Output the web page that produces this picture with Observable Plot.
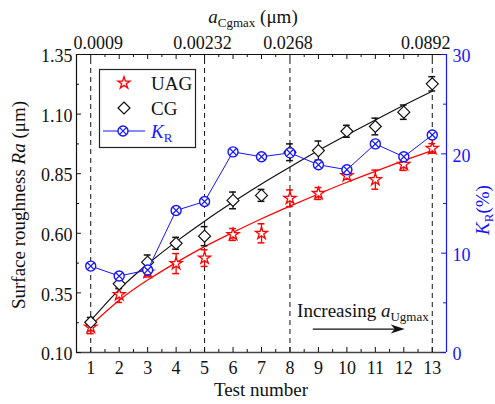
<!DOCTYPE html>
<html><head><meta charset="utf-8">
<script src="https://cdn.jsdelivr.net/npm/d3@7"></script>
<script src="https://cdn.jsdelivr.net/npm/@observablehq/plot@0.6"></script>
<style>
body{margin:0;background:#fff;}
#wrap{width:495px;height:404px;}
</style></head><body><div id="wrap"></div>
<script>
// ---- data ----
const tests  = [1,2,3,4,5,6,7,8,9,10,11,12,13];
const uag    = [0.206,0.343,0.437,0.473,0.496,0.595,0.600,0.747,0.767,0.842,0.825,0.889,0.956];
const uagErr = [0.027,0.033,0.020,0.042,0.035,0.025,0.040,0.035,0.025,0.015,0.040,0.025,0.020];
const uagFit = [0.213,0.319,0.404,0.477,0.544,0.604,0.661,0.714,0.765,0.814,0.860,0.905,0.947];
const cg     = [0.227,0.388,0.479,0.558,0.588,0.738,0.759,0.940,0.947,1.028,1.048,1.108,1.227];
const cgErr  = [0.020,0.020,0.030,0.025,0.040,0.035,0.025,0.035,0.040,0.025,0.035,0.030,0.030];
const cgFit  = [0.234,0.364,0.471,0.565,0.651,0.731,0.807,0.878,0.947,1.012,1.075,1.137,1.196];
const kr     = [8.7,7.7,8.3,14.3,15.2,20.2,19.7,20.1,18.9,18.4,21.0,19.7,21.9];

const topTickTests  = [1,5,8,13];
const topTickLabels = ["0.0009","0.00232","0.0268","0.0892"];
const raTicks      = [0.10,0.35,0.60,0.85,1.10,1.35];
const raMinorTicks = [0.225,0.475,0.725,0.975,1.225];
const krTicks      = [0,10,20,30];
const krMinorTicks = [5,15,25];
const xMinorTicks  = [1.5,2.5,3.5,4.5,5.5,6.5,7.5,8.5,9.5,10.5,11.5,12.5];
const arrowFromTest = 8.82, arrowToTest = 12.05, arrowRa = 0.196;

// ---- scales ----
const xMin = 0.5, xMax = 13.5, yMin = 0.10, yMax = 1.35, kMax = 30;
const k2y = k => yMin + k / kMax * (yMax - yMin);
const y2k = y => (y - yMin) / (yMax - yMin) * kMax;

const RED = "#ff0000", BLUE = "#1414ff", BLACK = "#111";
const FONT = "Liberation Serif";

const rows = tests.map((t, i) => ({
  t, uag: uag[i], ue: uagErr[i], uf: uagFit[i],
  cg: cg[i], ce: cgErr[i], cf: cgFit[i], k: kr[i]
}));
const topRows = topTickTests.map((t, i) => ({t, label: topTickLabels[i]}));

const tx = 0.175, tx2 = 0.105, ty = 0.021, ty2 = 0.0126, cap = 0.12;

const chart = Plot.plot({
  width: 495, height: 404,
  marginLeft: 76, marginRight: 49, marginTop: 54, marginBottom: 52,
  x: {domain: [xMin, xMax]},
  y: {domain: [yMin, yMax]},
  style: {fontFamily: FONT, fontSize: "18px", color: BLACK, background: "white"},
  marks: [
    // dashed guide lines
    Plot.ruleX(topTickTests, {x: d => d, y1: yMin, y2: yMax, stroke: BLACK, strokeDasharray: "5,4", strokeWidth: 1}),
    // fit curves
    Plot.line(rows, {x: "t", y: "uf", stroke: RED, strokeWidth: 1.2, curve: "natural"}),
    Plot.line(rows, {x: "t", y: "cf", stroke: BLACK, strokeWidth: 1.2, curve: "natural"}),
    // error bars UAG
    Plot.ruleX(rows, {x: "t", y1: d => d.uag - d.ue, y2: d => d.uag + d.ue, stroke: RED, strokeWidth: 1.3}),
    Plot.ruleY(rows, {y: d => d.uag - d.ue, x1: d => d.t - cap, x2: d => d.t + cap, stroke: RED, strokeWidth: 1.5}),
    Plot.ruleY(rows, {y: d => d.uag + d.ue, x1: d => d.t - cap, x2: d => d.t + cap, stroke: RED, strokeWidth: 1.5}),
    // error bars CG
    Plot.ruleX(rows, {x: "t", y1: d => d.cg - d.ce, y2: d => d.cg + d.ce, stroke: BLACK, strokeWidth: 1.3}),
    Plot.ruleY(rows, {y: d => d.cg - d.ce, x1: d => d.t - cap, x2: d => d.t + cap, stroke: BLACK, strokeWidth: 1.5}),
    Plot.ruleY(rows, {y: d => d.cg + d.ce, x1: d => d.t - cap, x2: d => d.t + cap, stroke: BLACK, strokeWidth: 1.5}),
    // points
    Plot.dot(rows, {x: "t", y: "uag", symbol: "star", r: 3.8, stroke: RED, fill: "white", strokeWidth: 1.3}),
    Plot.dot(rows, {x: "t", y: "cg", symbol: "diamond2", r: 5.4, stroke: BLACK, fill: "white", strokeWidth: 1.2}),
    // K_R series
    Plot.line(rows, {x: "t", y: d => k2y(d.k), stroke: BLUE, strokeWidth: 1}),
    Plot.dot(rows, {x: "t", y: d => k2y(d.k), r: 5, stroke: BLUE, fill: "white", strokeWidth: 1.4}),
    Plot.dot(rows, {x: "t", y: d => k2y(d.k), symbol: "times", r: 3.1, stroke: BLUE, strokeWidth: 1.2}),
    // frame
    Plot.ruleX([xMin], {stroke: BLACK, strokeWidth: 1.2}),
    Plot.ruleY([yMin], {stroke: "#444", strokeWidth: 1.6}),
    Plot.ruleY([yMax], {stroke: BLACK, strokeWidth: 1.2}),
    Plot.ruleX([xMax], {stroke: BLUE, strokeWidth: 1.2}),
    // inward ticks
    Plot.ruleY(raTicks, {y: d => d, x1: xMin, x2: xMin + tx, stroke: BLACK}),
    Plot.ruleY(raMinorTicks, {y: d => d, x1: xMin, x2: xMin + tx2, stroke: BLACK}),
    Plot.ruleY(krTicks, {y: d => k2y(d), x1: xMax - tx, x2: xMax, stroke: BLUE}),
    Plot.ruleY(krMinorTicks, {y: d => k2y(d), x1: xMax - tx2, x2: xMax, stroke: BLUE}),
    Plot.ruleX(tests, {x: d => d, y1: yMin, y2: yMin + ty, stroke: BLACK}),
    Plot.ruleX(xMinorTicks, {x: d => d, y1: yMin, y2: yMin + ty2, stroke: BLACK}),
    Plot.ruleX(tests, {x: d => d, y1: yMax - ty, y2: yMax, stroke: BLACK}),
    Plot.ruleX(xMinorTicks, {x: d => d, y1: yMax - ty2, y2: yMax, stroke: BLACK}),
    // axis labels
    Plot.axisY({anchor: "left", ticks: raTicks, tickSize: 0, tickPadding: 4, tickFormat: d => d.toFixed(2), label: null, fill: BLACK, dy: 2}),
    Plot.axisY({anchor: "right", ticks: krTicks.map(k2y), tickSize: 0, tickPadding: 6, tickFormat: d => String(Math.round(y2k(d))), label: null, fill: BLUE, dy: 2}),
    Plot.axisX({anchor: "bottom", ticks: tests, tickSize: 0, tickPadding: 9, tickFormat: d => String(d), label: null, fill: BLACK}),
    // top axis labels (outer ones pulled inside like the reference)
    Plot.text(topRows.slice(0, 1), {x: () => xMin, y: () => yMax, text: "label", textAnchor: "start", lineAnchor: "bottom", dx: -3, dy: -6, fill: BLACK}),
    Plot.text(topRows.slice(1, 3), {x: "t", y: () => yMax, text: "label", lineAnchor: "bottom", dx: -2, dy: -6, fill: BLACK}),
    Plot.text(topRows.slice(3), {x: () => xMax, y: () => yMax, text: "label", textAnchor: "end", lineAnchor: "bottom", dx: 4, dy: -6, fill: BLACK})
  ]
});

document.getElementById("wrap").appendChild(chart);

// ---- titles, annotation and legend (rich text) ----
const svg = d3.select(chart);
const sx = chart.scale("x"), sy = chart.scale("y");
function richText(g, parts) {
  parts.forEach(p => {
    const ts = g.append("tspan").text(p.t);
    if (p.i) ts.attr("font-style", "italic");
    if (p.s) ts.attr("font-size", p.s);
    if (p.dy) ts.attr("dy", p.dy);
  });
  return g;
}
const T = svg.append("g").attr("font-family", FONT).attr("fill", BLACK);

// top title
richText(T.append("text").attr("x", 253).attr("y", 23).attr("text-anchor", "middle").attr("font-size", 19),
  [{t: "a", i: true}, {t: "Cgmax", s: 13, dy: 4}, {t: " (μm)", dy: -4}]);
// bottom title
T.append("text").attr("x", 261).attr("y", 396).attr("text-anchor", "middle").attr("font-size", 19).text("Test number");
// left title
richText(T.append("text").attr("transform", "translate(25,205) rotate(-90)").attr("text-anchor", "middle").attr("font-size", 19),
  [{t: "Surface roughness "}, {t: "Ra", i: true}, {t: " (μm)"}]);
// right title
richText(T.append("text").attr("transform", "translate(489,210) rotate(-90)").attr("text-anchor", "middle").attr("font-size", 19).attr("fill", BLUE),
  [{t: "K", i: true}, {t: "R", s: 13, dy: 4}, {t: "(%)", dy: -4}]);

// annotation
richText(T.append("text").attr("x", sx.apply(13) - 3).attr("y", 317).attr("text-anchor", "end").attr("font-size", 19),
  [{t: "Increasing "}, {t: "a", i: true}, {t: "Ugmax", s: 13, dy: 4}]);
const ax1 = sx.apply(arrowFromTest), ax2 = sx.apply(arrowToTest), ay = sy.apply(arrowRa);
T.append("line").attr("x1", ax1).attr("x2", ax2 - 6).attr("y1", ay).attr("y2", ay).attr("stroke", BLACK).attr("stroke-width", 1.3);
T.append("path").attr("d", `M${ax2},${ay}L${ax2 - 14},${ay - 4.5}L${ax2 - 10},${ay}L${ax2 - 14},${ay + 4.5}Z`).attr("fill", BLACK);

// legend
const L = svg.append("g").attr("font-family", FONT).attr("text-anchor", "start");
L.append("rect").attr("x", 99.5).attr("y", 69.5).attr("width", 96).attr("height", 78).attr("fill", "white").attr("stroke", "#222").attr("stroke-width", 1.2);
L.append("path").attr("d", d3.symbol(d3.symbolStar, Math.PI * 3.8 * 3.8)()).attr("transform", "translate(124,83)").attr("fill", "white").attr("stroke", RED).attr("stroke-width", 1.3);
L.append("text").attr("x", 151).attr("y", 90).attr("text-anchor", "start").attr("font-size", 19).attr("fill", BLACK).text("UAG");
L.append("path").attr("d", d3.symbol(d3.symbolDiamond2, Math.PI * 5.4 * 5.4)()).attr("transform", "translate(124,108)").attr("fill", "white").attr("stroke", BLACK).attr("stroke-width", 1.2);
L.append("text").attr("x", 151).attr("y", 115).attr("text-anchor", "start").attr("font-size", 19).attr("fill", BLACK).text("CG");
L.append("line").attr("x1", 103).attr("x2", 145).attr("y1", 131).attr("y2", 131).attr("stroke", BLUE);
L.append("circle").attr("cx", 123).attr("cy", 131).attr("r", 5).attr("fill", "white").attr("stroke", BLUE).attr("stroke-width", 1.4);
L.append("path").attr("d", d3.symbol(d3.symbolTimes, Math.PI * 3.1 * 3.1)()).attr("transform", "translate(123,131)").attr("fill", "none").attr("stroke", BLUE).attr("stroke-width", 1.2);
richText(L.append("text").attr("x", 151).attr("y", 138).attr("text-anchor", "start").attr("font-size", 19).attr("fill", BLUE),
  [{t: "K", i: true}, {t: "R", s: 13, dy: 4}]);
</script>
</body></html>
